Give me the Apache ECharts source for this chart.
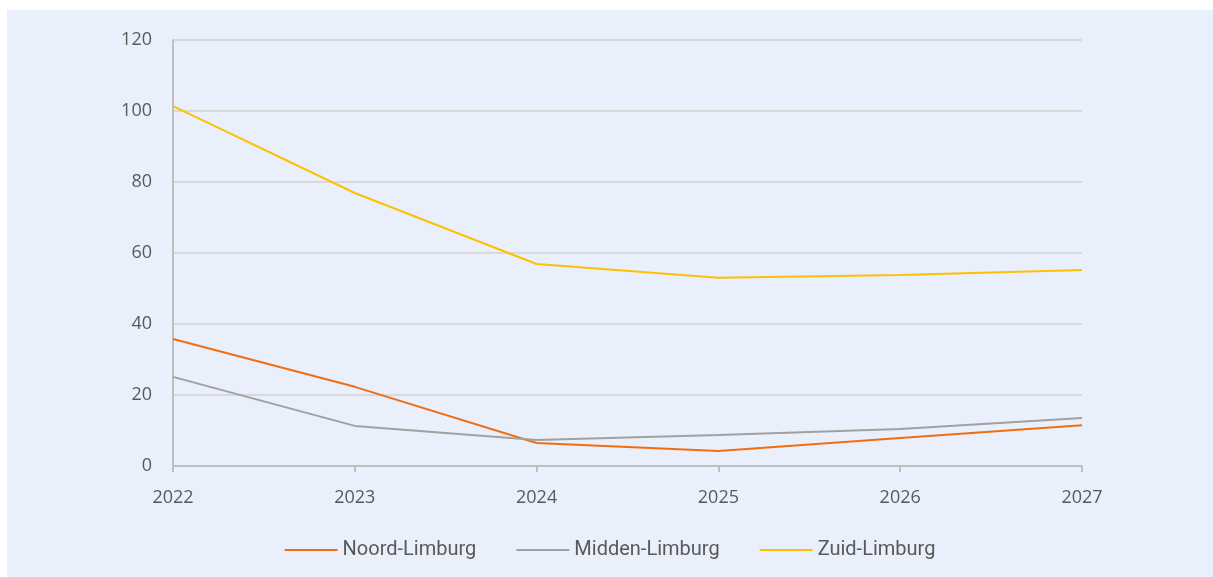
<!DOCTYPE html>
<html>
<head>
<meta charset="utf-8">
<script src="https://cdn.jsdelivr.net/npm/echarts@6/dist/echarts.min.js"></script>
<style>
  html, body { margin: 0; padding: 0; background: #fff; }
  #chart { position: absolute; left: 7px; top: 10px; width: 1206px; height: 567px; background: #e9f0fc; }
</style>
</head>
<body>
<div id="chart"></div>
<script>
var years = ['2022', '2023', '2024', '2025', '2026', '2027'];
var noordLimburg = [35.8, 22.3, 6.5, 4.2, 7.9, 11.5];
var middenLimburg = [25.1, 11.3, 7.3, 8.7, 10.4, 13.5];
var zuidLimburg = [101.4, 76.9, 56.9, 53.0, 53.8, 55.2];

var chart = echarts.init(document.getElementById('chart'));
// humanistisch lettertype voor de aslabels
var labelFont = '"Open Sans", Lato, sans-serif';

function line (name, data, color) {
  return {
    name: name,
    type: 'line',
    data: data,
    symbol: 'none',
    smooth: false,
    lineStyle: { width: 2, color: color },
    itemStyle: { color: color }
  };
}

chart.setOption({
  animation: false,
  grid: { left: 166, right: 131, top: 30, bottom: 111 },
  legend: {
    top: 525,
    left: 'center',
    itemWidth: 53,
    itemHeight: 2,
    itemGap: 40,
    icon: 'rect',
    textStyle: { color: '#595959', fontSize: 20, fontFamily: 'Roboto, sans-serif' },
    data: ['Noord-Limburg', 'Midden-Limburg', 'Zuid-Limburg']
  },
  xAxis: {
    type: 'category',
    data: years,
    boundaryGap: false,
    axisLine: { lineStyle: { color: '#bfbfbf', width: 2 } },
    axisTick: { show: true, length: 6, lineStyle: { color: '#bfbfbf', width: 2 } },
    axisLabel: { color: '#595959', fontSize: 18, fontFamily: labelFont, margin: 23 },
    splitLine: { show: false }
  },
  yAxis: {
    type: 'value',
    min: 0,
    max: 120,
    interval: 20,
    axisLine: { show: true, lineStyle: { color: '#bfbfbf', width: 2 } },
    axisTick: { show: false },
    axisLabel: { color: '#595959', fontSize: 18, fontFamily: labelFont, margin: 21 },
    splitLine: { lineStyle: { color: '#d9d9d9', width: 2 } }
  },
  series: [
    line('Noord-Limburg', noordLimburg, '#ef6e12'),
    line('Midden-Limburg', middenLimburg, '#a0a0a0'),
    line('Zuid-Limburg', zuidLimburg, '#ffc000')
  ]
});
</script>
</body>
</html>
